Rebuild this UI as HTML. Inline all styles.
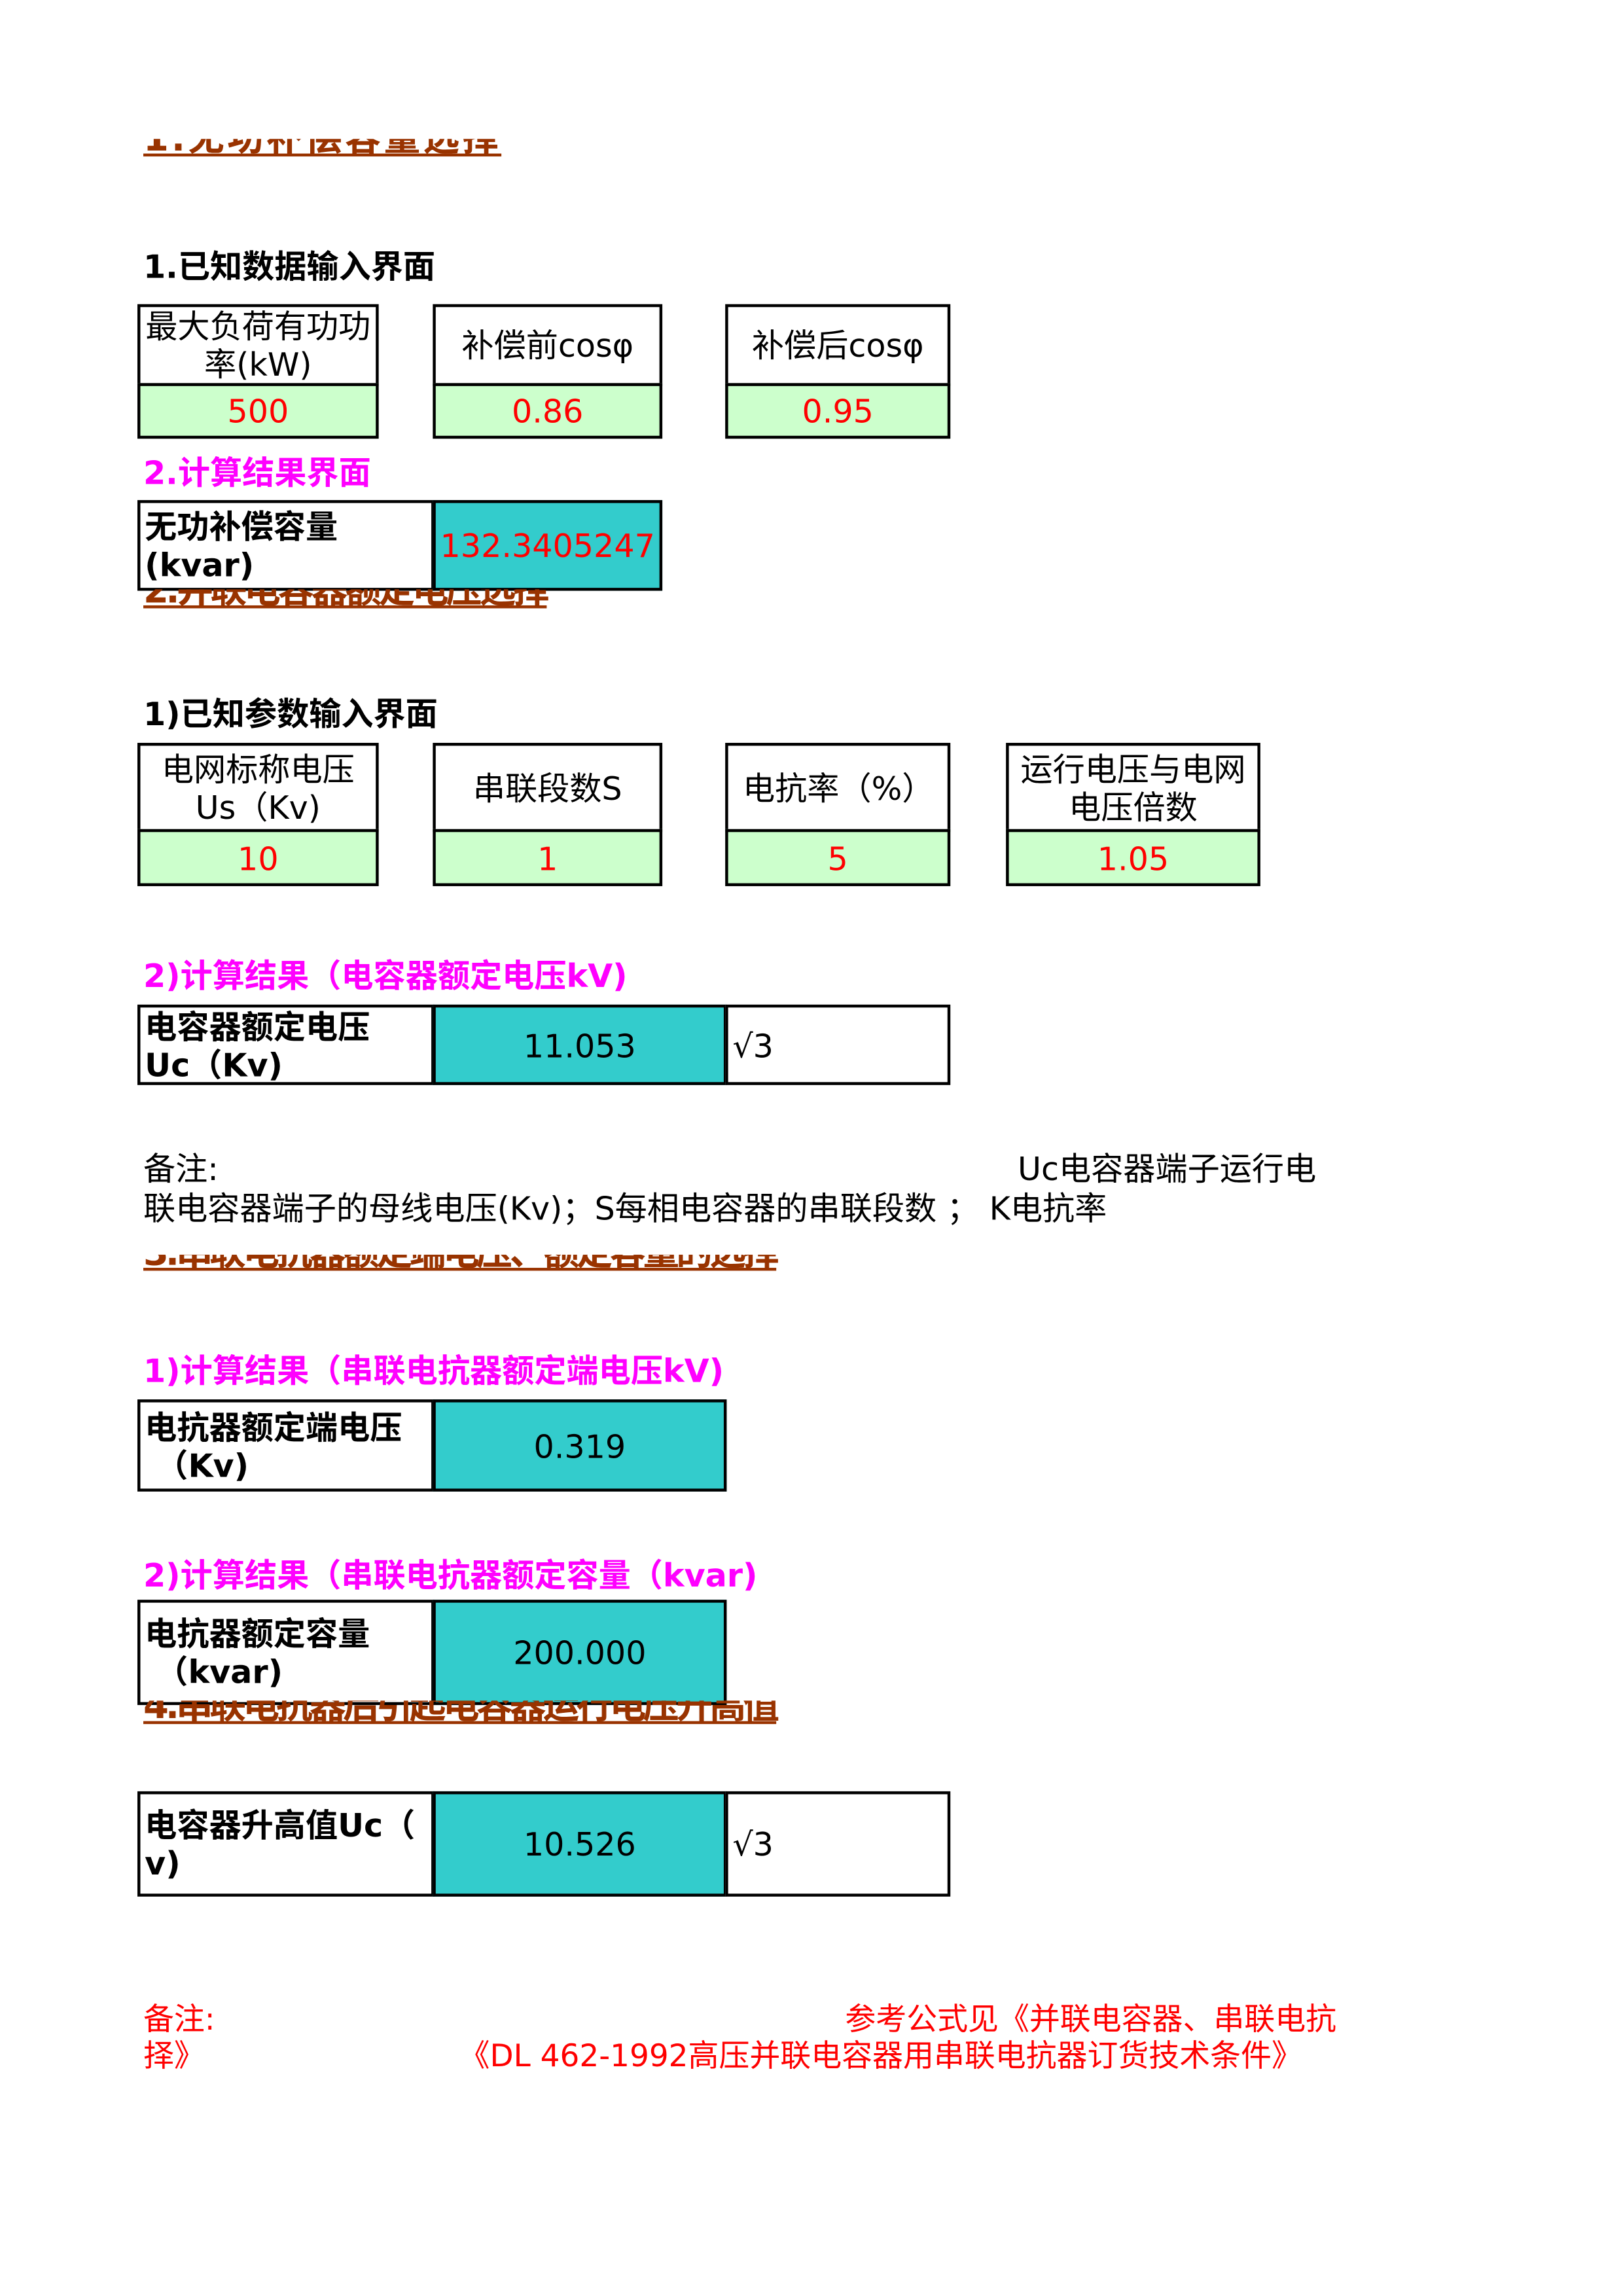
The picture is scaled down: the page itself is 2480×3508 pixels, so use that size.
<!DOCTYPE html>
<html><head><meta charset="utf-8">
<style>
html,body{margin:0;padding:0;background:#fff;}
body{width:2480px;height:3508px;overflow:hidden;position:relative;}
#c{position:absolute;left:0;top:0;width:1110px;height:1570px;transform:scale(2.2342);transform-origin:0 0;font-family:"DejaVu Sans","Noto Sans CJK SC",sans-serif;font-size:22px;}
.a{position:absolute;white-space:nowrap;line-height:26px;margin-top:2px;}
.b{position:absolute;box-sizing:border-box;border:2px solid #000;white-space:nowrap;padding-top:4px;}
.g{background:#ccffcc;}
.t{background:#33cccc;}
.w{background:#fff;}
.ctr{display:flex;align-items:center;justify-content:center;text-align:center;line-height:26px;}
.lft{display:flex;align-items:center;justify-content:flex-start;padding-left:3px;line-height:26px;}
.red{color:#ff0000;}
.bold{font-weight:bold;}
.mag{color:#ff00ff;font-weight:bold;}
.clip{position:absolute;overflow:hidden;}
.brown{position:absolute;left:0;white-space:nowrap;color:#993300;font-weight:bold;text-decoration:underline;line-height:26px;font-size:25px;}
.note{font-size:21px;}
</style></head><body><div id="c">

<div class="clip" style="left:98px;top:95px;width:400px;height:14px;"><div class="brown" style="top:-13px;letter-spacing:1.8px;">1.无功补偿容量选择</div></div>

<div class="a bold" style="left:98px;top:169px;">1.已知数据输入界面</div>

<div class="b w ctr" style="left:94px;top:208px;width:165px;height:56px;">最大负荷有功功<br>率(kW)</div>
<div class="b g ctr red" style="left:94px;top:262px;width:165px;height:38px;">500</div>
<div class="b w ctr" style="left:296px;top:208px;width:157px;height:56px;">补偿前cosφ</div>
<div class="b g ctr red" style="left:296px;top:262px;width:157px;height:38px;">0.86</div>
<div class="b w ctr" style="left:496px;top:208px;width:154px;height:56px;">补偿后cosφ</div>
<div class="b g ctr red" style="left:496px;top:262px;width:154px;height:38px;">0.95</div>

<div class="a mag" style="left:98px;top:310px;">2.计算结果界面</div>
<div class="b w lft bold" style="left:94px;top:342px;width:203px;height:62px;">无功补偿容量<br>(kvar)</div>
<div class="b t ctr red" style="left:296px;top:342px;width:157px;height:62px;">132.3405247</div>

<div class="clip" style="left:98px;top:403px;width:400px;height:15px;"><div class="brown" style="top:-12px;letter-spacing:-2px;">2.并联电容器额定电压选择</div></div>

<div class="a bold" style="left:98px;top:475px;">1)已知参数输入界面</div>

<div class="b w ctr" style="left:94px;top:508px;width:165px;height:61px;">电网标称电压<br>Us（Kv)</div>
<div class="b g ctr red" style="left:94px;top:567px;width:165px;height:39px;">10</div>
<div class="b w ctr" style="left:296px;top:508px;width:157px;height:61px;">串联段数S</div>
<div class="b g ctr red" style="left:296px;top:567px;width:157px;height:39px;">1</div>
<div class="b w lft" style="left:496px;top:508px;width:154px;height:61px;padding-left:10px;">电抗率（%）</div>
<div class="b g ctr red" style="left:496px;top:567px;width:154px;height:39px;">5</div>
<div class="b w ctr" style="left:688px;top:508px;width:174px;height:61px;">运行电压与电网<br>电压倍数</div>
<div class="b g ctr red" style="left:688px;top:567px;width:174px;height:39px;">1.05</div>

<div class="a mag" style="left:98px;top:654px;">2)计算结果（电容器额定电压kV)</div>
<div class="b w lft bold" style="left:94px;top:687px;width:203px;height:55px;">电容器额定电压<br>Uc（Kv)</div>
<div class="b t ctr" style="left:296px;top:687px;width:201px;height:55px;">11.053</div>
<div class="b w lft" style="left:496px;top:687px;width:154px;height:55px;">√3</div>

<div class="a" style="left:98px;top:786px;">备注:</div>
<div class="a" style="left:696px;top:786px;">Uc电容器端子运行电</div>
<div class="a" style="left:98px;top:813px;">联电容器端子的母线电压(Kv)；S每相电容器的串联段数 ； K电抗率</div>

<div class="clip" style="left:98px;top:858px;width:500px;height:13px;"><div class="brown" style="top:-14px;letter-spacing:-2.2px;">3.串联电抗器额定端电压、额定容量的选择</div></div>

<div class="a mag" style="left:98px;top:924px;">1)计算结果（串联电抗器额定端电压kV)</div>
<div class="b w lft bold" style="left:94px;top:957px;width:203px;height:63px;">电抗器额定端电压<br>&nbsp;（Kv)</div>
<div class="b t ctr" style="left:296px;top:957px;width:201px;height:63px;">0.319</div>

<div class="a mag" style="left:98px;top:1064px;">2)计算结果（串联电抗器额定容量（kvar)</div>
<div class="b w lft bold" style="left:94px;top:1094px;width:203px;height:72px;">电抗器额定容量<br>&nbsp;（kvar)</div>
<div class="b t ctr" style="left:296px;top:1094px;width:201px;height:72px;">200.000</div>

<div class="clip" style="left:98px;top:1163px;width:500px;height:18px;"><div class="brown" style="top:-9px;letter-spacing:-2.2px;">4.串联电抗器后引起电容器运行电压升高值</div></div>

<div class="b w lft bold" style="left:94px;top:1225px;width:203px;height:72px;">电容器升高值Uc（<br>v)</div>
<div class="b t ctr" style="left:296px;top:1225px;width:201px;height:72px;">10.526</div>
<div class="b w lft" style="left:496px;top:1225px;width:154px;height:72px;">√3</div>

<div class="a red note" style="left:98px;top:1366px;">备注:</div>
<div class="a red note" style="left:578px;top:1366px;">参考公式见《并联电容器、串联电抗</div>
<div class="a red note" style="left:98px;top:1391px;">择》</div>
<div class="a red note" style="left:314px;top:1391px;">《DL 462-1992高压并联电容器用串联电抗器订货技术条件》</div>

</div></body></html>
